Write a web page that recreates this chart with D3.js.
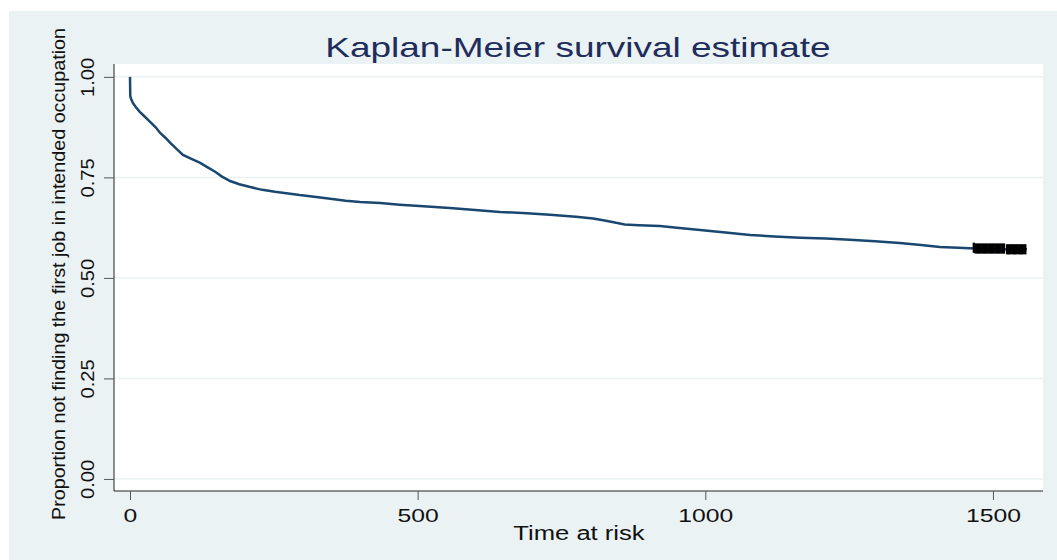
<!DOCTYPE html>
<html>
<head>
<meta charset="utf-8">
<script src="https://cdn.jsdelivr.net/npm/d3@7"></script>
<style>
	body { margin: 0; background: #fff; }
	text { font-family: "Liberation Sans", Arial, sans-serif; }
</style>
</head>
<body>
<svg id="chart" width="1057" height="560"></svg>
<script>
// Kaplan-Meier estimate
const times = [0, 0.5, 2, 5, 10, 17, 25, 35, 45, 52, 62, 70, 80, 92, 105, 122, 135, 148, 160, 174,
	190, 209, 230, 252, 275, 295, 320, 348, 375, 400, 435, 469, 510, 556, 600, 643, 690, 730,
	775, 805, 825, 845, 860, 885, 921, 955, 991, 1035, 1078, 1120, 1165, 1210, 1251, 1295, 1338,
	1375, 1408, 1440, 1469, 1522, 1559]
const survival = [1.0, 0.952, 0.945, 0.935, 0.925, 0.913, 0.902, 0.888, 0.874, 0.861, 0.848, 0.836,
	0.822, 0.806, 0.797, 0.786, 0.775, 0.764, 0.752, 0.741, 0.733, 0.726, 0.719, 0.714, 0.710,
	0.706, 0.702, 0.697, 0.692, 0.689, 0.686, 0.682, 0.678, 0.674, 0.669, 0.664, 0.661, 0.657,
	0.652, 0.648, 0.643, 0.637, 0.633, 0.631, 0.629, 0.624, 0.619, 0.613, 0.607, 0.603, 0.600,
	0.598, 0.595, 0.591, 0.587, 0.582, 0.577, 0.575, 0.573, 0.571, 0.571]
// censored observations (the black blocks at the end)
const censorTimes = [1466, 1467.5, 1469, 1470.5, 1472, 1473.5, 1475, 1476.5, 1478, 1479.5, 1481,
	1482.5, 1484, 1485.5, 1487, 1488.5, 1490, 1491.5, 1493, 1494.5, 1496, 1497.5, 1499, 1500.5,
	1502, 1503.5, 1505, 1506.5, 1508, 1509.5, 1511, 1512.5, 1514, 1515.5, 1517, 1518.5, 1520,
	1524, 1525.5, 1527, 1528.5, 1530, 1531.5, 1533, 1534.5, 1536, 1537.5, 1539, 1540.5, 1542,
	1543.5, 1545, 1546.5, 1548, 1549.5, 1551, 1552.5, 1554, 1555.5, 1557]
const xTicks = [0, 500, 1000, 1500]
const yTicks = [0, 0.25, 0.5, 0.75, 1]

const colours = {
	bg: "#eaf2f3",
	grid: "#eaf2f3",
	line: "#1a476f",
	title: "#1e2d5c",
	text: "#111"
}

const svg = d3.select("#chart")

const x = d3.scaleLinear().domain([-27.8, 1587]).range([114, 1043])
const y = d3.scaleLinear().domain([-0.03, 1.032]).range([491, 64])

// outer graph region
svg.append("rect")
	.attr("x", 9).attr("y", 11)
	.attr("width", 1048).attr("height", 549)
	.attr("fill", colours.bg)

// plot region
svg.append("rect")
	.attr("x", 114).attr("y", 64)
	.attr("width", 929).attr("height", 427)
	.attr("fill", "#fff")

// grid lines
svg.append("g")
	.selectAll("line")
	.data(yTicks)
	.enter()
	.append("line")
	.attr("x1", 114).attr("x2", 1043)
	.attr("y1", d => y(d)).attr("y2", d => y(d))
	.attr("stroke", colours.grid)
	.attr("stroke-width", 1.5)

// stretch text horizontally the way the original renderer does
const stretch = (sel, factor) =>
	sel.each(function () {
		const w = this.getComputedTextLength()
		d3.select(this)
			.attr("textLength", w * factor)
			.attr("lengthAdjust", "spacingAndGlyphs")
	})

// y axis
const yAxis = svg.append("g")
	.attr("transform", "translate(114,0)")
	.call(d3.axisLeft(y).tickValues(yTicks).tickSize(10).tickFormat(d3.format(".2f")))
yAxis.select(".domain").attr("d", "M0,64V491").attr("stroke", "#222")
yAxis.selectAll(".tick line").attr("stroke", "#555")
yAxis.selectAll(".tick text")
	.attr("x", 0).attr("dy", null)
	.attr("transform", "translate(-20,0) rotate(-90)")
	.attr("text-anchor", "middle")
	.attr("font-size", 18)
	.attr("fill", colours.text)
	.style("font-family", "Liberation Sans, Arial, sans-serif")
	.call(stretch, 1.12)

// x axis
const xAxis = svg.append("g")
	.attr("transform", "translate(0,491)")
	.call(d3.axisBottom(x).tickValues(xTicks).tickSize(9).tickFormat(d3.format("d")))
xAxis.select(".domain").attr("d", "M114,0H1043").attr("stroke", "#222")
xAxis.selectAll(".tick line").attr("stroke", "#555")
xAxis.selectAll(".tick text")
	.attr("y", 31).attr("dy", null)
	.attr("font-size", 19)
	.attr("fill", colours.text)
	.style("font-family", "Liberation Sans, Arial, sans-serif")
	.call(stretch, 1.3)

// survival curve
const line = d3.line()
	.x((d, i) => x(times[i]))
	.y(d => y(d))

svg.append("path")
	.datum(survival)
	.attr("d", line)
	.attr("fill", "none")
	.attr("stroke", colours.line)
	.attr("stroke-width", 2.5)

// censor marks
const bisect = d3.bisector(d => d).right
const survAt = t => survival[Math.max(0, bisect(times, t) - 1)]

svg.append("g")
	.selectAll("line")
	.data(censorTimes)
	.enter()
	.append("line")
	.attr("x1", d => x(d)).attr("x2", d => x(d))
	.attr("y1", d => y(survAt(d)) - 5)
	.attr("y2", d => y(survAt(d)) + 5)
	.attr("stroke", "#000")
	.attr("stroke-width", 1.5)

// titles
svg.append("text")
	.attr("x", 578).attr("y", 57)
	.attr("text-anchor", "middle")
	.attr("font-size", 28)
	.attr("fill", colours.title)
	.text("Kaplan-Meier survival estimate")
	.call(stretch, 1.32)

svg.append("text")
	.attr("x", 579).attr("y", 540)
	.attr("text-anchor", "middle")
	.attr("font-size", 20)
	.attr("fill", colours.text)
	.text("Time at risk")
	.call(stretch, 1.28)

svg.append("text")
	.attr("transform", "translate(65,274) rotate(-90)")
	.attr("text-anchor", "middle")
	.attr("font-size", 19)
	.attr("fill", colours.text)
	.attr("textLength", 492)
	.attr("lengthAdjust", "spacingAndGlyphs")
	.text("Proportion not finding the first job in intended occupation")
</script>
</body>
</html>
